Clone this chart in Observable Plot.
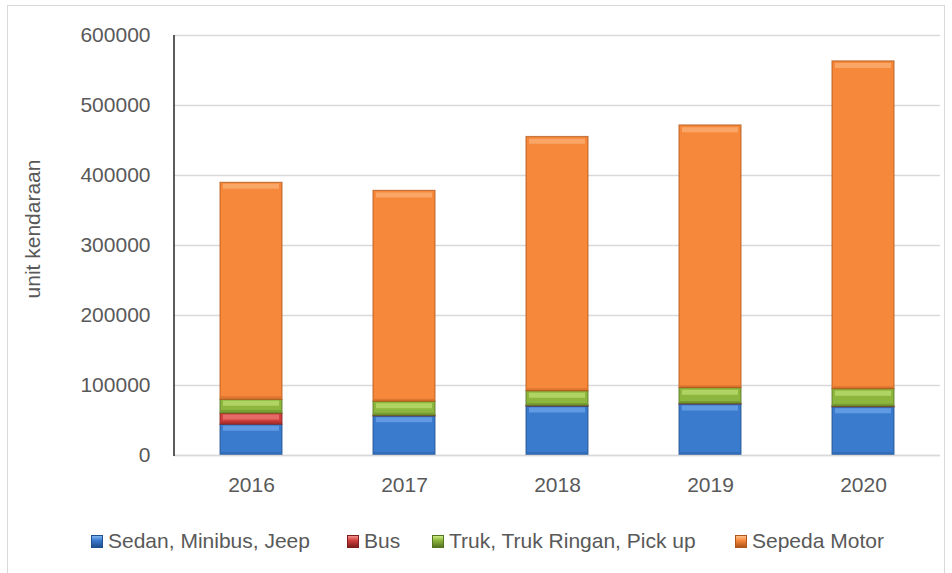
<!DOCTYPE html>
<html>
<head>
<meta charset="utf-8">
<script src="https://cdn.jsdelivr.net/npm/d3@7"></script>
<script src="https://cdn.jsdelivr.net/npm/@observablehq/plot@0.6"></script>
<style>
  html, body { margin: 0; padding: 0; background: #fff; }
  #wrap { position: relative; width: 952px; height: 573px; overflow: hidden; font-family: "Liberation Sans", Arial, sans-serif; }
  #border { position: absolute; left: 7px; top: 5px; width: 938px; height: 600px; border: 1px solid #d9d9d9; box-sizing: border-box; }
  #chart { position: absolute; left: 0; top: 0; }
  #ylabel { position: absolute; left: 33px; top: 229px; transform: translate(-50%, -50%) rotate(-90deg); font-size: 21px; color: #595959; white-space: nowrap; }
  #legend { position: absolute; left: 0; top: 528px; width: 952px; height: 26px; font-size: 21px; color: #595959; white-space: nowrap; }
  .item { position: absolute; top: 0; height: 26px; display: flex; align-items: center; }
  .sw { width: 12px; height: 13px; margin-right: 5px; box-sizing: border-box; }
</style>
</head>
<body>
<div id="wrap">
  <div id="border"></div>
  <div id="chart"></div>
  <div id="ylabel">unit kendaraan</div>
  <div id="legend"></div>
</div>
<script>
const years = ["2016", "2017", "2018", "2019", "2020"];
const seriesNames = ["Sedan, Minibus, Jeep", "Bus", "Truk, Truk Ringan, Pick up", "Sepeda Motor"];
const sedan = [44000, 56000, 70000, 73000, 69000];
const bus = [16000, 1000, 1000, 1000, 1000];
const truk = [19500, 20000, 21000, 22500, 25000];
const motor = [310000, 301000, 363000, 375000, 468000];
const yTicks = [0, 100000, 200000, 300000, 400000, 500000, 600000];

const fills = ["#3b7bce", "#d23f3c", "#8db63e", "#f6883b"];
const lights = ["#7fb4f2", "#f3908d", "#cdec84", "#fcc08a"];
const darks = ["#1f4f8c", "#7e1f1d", "#557522", "#b0561a"];

const seriesValues = [sedan, bus, truk, motor];
const data = [];
years.forEach((yr, i) => {
  seriesNames.forEach((s, j) => {
    data.push({year: yr, series: s, value: seriesValues[j][i], fill: fills[j], light: lights[j], dark: darks[j]});
  });
});

const chart = Plot.plot({
  width: 952,
  height: 505,
  marginTop: 35,
  marginBottom: 50,
  marginLeft: 174,
  marginRight: 12,
  style: {fontFamily: '"Liberation Sans", Arial, sans-serif', fontSize: "21px", color: "#595959", background: "transparent"},
  x: {domain: years, paddingInner: 0.595, paddingOuter: 0.2975, label: null, tickSize: 0, tickPadding: 22},
  y: {domain: [0, 600000], ticks: yTicks, label: null, tickSize: 0, tickPadding: 24, tickFormat: d => String(d)},
  color: {type: "identity"},
  marks: [
    Plot.ruleY(yTicks, {stroke: "#d9d9d9", strokeWidth: 1.3}),
    Plot.barY(data, {x: "year", y: "value", z: "series", fill: "fill", stroke: "dark", strokeWidth: 1.2, strokeOpacity: 0.7}),
    Plot.tickY(data, Plot.stackY2({
      filter: d => d.value > 8000,
      x: "year", y: "value", z: "series", stroke: "light", strokeWidth: 5, dy: 3.5, insetLeft: 3, insetRight: 3, strokeOpacity: 0.55
    })),
    Plot.tickY(data, Plot.stackY1({
      filter: d => d.value > 8000,
      x: "year", y: "value", z: "series", stroke: "dark", strokeWidth: 3, dy: -2, insetLeft: 1, insetRight: 1, strokeOpacity: 0.35
    })),
    Plot.ruleY([0], {stroke: "#d9d9d9", strokeWidth: 1.5})
  ]
});

// left axis line
const svg = d3.select(chart);
svg.append("line")
  .attr("x1", 174).attr("x2", 174)
  .attr("y1", 35).attr("y2", 456)
  .attr("stroke", "#262626").attr("stroke-width", 1.5);
svg.selectAll("text").attr("fill", "#595959");

document.getElementById("chart").appendChild(chart);

const legendLeft = [91, 347, 432, 735];
const legend = document.getElementById("legend");
seriesNames.forEach((s, j) => {
  const item = document.createElement("div");
  item.className = "item";
  item.style.left = legendLeft[j] + "px";
  const sw = document.createElement("div");
  sw.className = "sw";
  sw.style.background = `linear-gradient(to bottom, ${lights[j]} 0%, ${fills[j]} 40%, ${darks[j]} 100%)`;
  sw.style.border = `1px solid ${darks[j]}`;
  const t = document.createElement("span");
  t.textContent = s;
  item.appendChild(sw);
  item.appendChild(t);
  legend.appendChild(item);
});
</script>
</body>
</html>
